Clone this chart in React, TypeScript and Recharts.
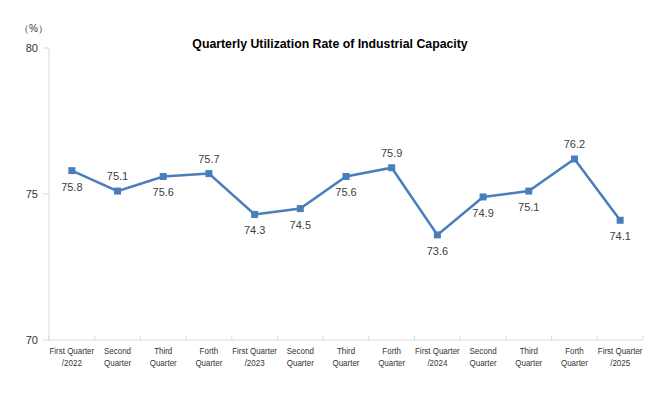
import { LineChart, Line, XAxis, YAxis, ResponsiveContainer } from 'recharts'

const quarters = [
  'First Quarter\n/2022',
  'Second\nQuarter',
  'Third\nQuarter',
  'Forth\nQuarter',
  'First Quarter\n/2023',
  'Second\nQuarter',
  'Third\nQuarter',
  'Forth\nQuarter',
  'First Quarter\n/2024',
  'Second\nQuarter',
  'Third\nQuarter',
  'Forth\nQuarter',
  'First Quarter\n/2025',
]
const rates = [75.8, 75.1, 75.6, 75.7, 74.3, 74.5, 75.6, 75.9, 73.6, 74.9, 75.1, 76.2, 74.1]
const labelSide = ['below', 'above', 'below', 'above', 'below', 'below', 'below', 'above', 'below', 'below', 'below', 'above', 'below']
const yTicks = [70, 75, 80]

const data = quarters.map((q, i) => ({ quarter: q, rate: rates[i], side: labelSide[i] }))

const W = 660
const H = 399
const LEFT = 49
const RIGHT = 17
const band = (W - LEFT - RIGHT) / quarters.length

const XTick = (props: any) => {
  const { x, y, payload, index } = props
  const lines = String(payload.value).split('\n')
  const axisY = y - 8
  // squeeze horizontally to mimic the narrow font of the original
  const squeeze = `translate(${x},0) scale(0.84,1) translate(${-x},0)`
  return (
    <g>
      <line x1={x - band / 2} x2={x - band / 2} y1={axisY} y2={axisY - 4} stroke="#d9d9d9" />
      {index === quarters.length - 1 && (
        <line x1={x + band / 2} x2={x + band / 2} y1={axisY} y2={axisY - 4} stroke="#d9d9d9" />
      )}
      <text x={x} y={y + 6} textAnchor="middle" fontSize={9.5} fill="#333" transform={squeeze}>
        {lines.map((l, k) => (
          <tspan key={k} x={x} dy={k === 0 ? 0 : 12}>{l}</tspan>
        ))}
      </text>
    </g>
  )
}

const ValueLabel = (props: any) => {
  const { x, y, value, index } = props
  const above = labelSide[index] === 'above'
  return (
    <text x={x} y={above ? y - 11 : y + 20} textAnchor="middle" fontSize={11} fill="#404040">
      {value.toFixed(1)}
    </text>
  )
}

const Square = (props: any) => {
  const { cx, cy } = props
  return <rect x={cx - 3.5} y={cy - 3.5} width={7} height={7} fill="#4a7ebb" />
}

export default function App() {
  return (
    <div style={{ position: 'absolute', left: 0, top: 0, width: W, height: H, background: '#fff', fontFamily: "'Liberation Sans', Arial, sans-serif" }}>
      <div style={{ position: 'absolute', left: 0, width: W, top: 37, textAlign: 'center', fontSize: 12.3, fontWeight: 'bold', color: '#000' }}>
        Quarterly Utilization Rate of Industrial Capacity
      </div>
      <div style={{ position: 'absolute', left: 19, top: 22, fontSize: 10, color: '#333' }}>（%）</div>
      <ResponsiveContainer width={W} height={H}>
        <LineChart data={data} margin={{ top: 48, right: RIGHT, bottom: 19, left: 0 }}>
          <XAxis dataKey="quarter" interval={0} tick={<XTick />} tickLine={false}
            padding={{ left: band / 2, right: band / 2 }}
            axisLine={{ stroke: '#d9d9d9' }} height={40} />
          <YAxis domain={[70, 80]} ticks={yTicks} width={LEFT} tickSize={6} tickMargin={5}
            axisLine={{ stroke: '#d9d9d9' }} tickLine={{ stroke: '#d9d9d9' }}
            tick={{ fontSize: 11, fill: '#333' }} />
          <Line dataKey="rate" stroke="#4a7ebb" strokeWidth={2.5} dot={<Square />}
            activeDot={false} isAnimationActive={false} label={<ValueLabel />} />
        </LineChart>
      </ResponsiveContainer>
    </div>
  )
}
